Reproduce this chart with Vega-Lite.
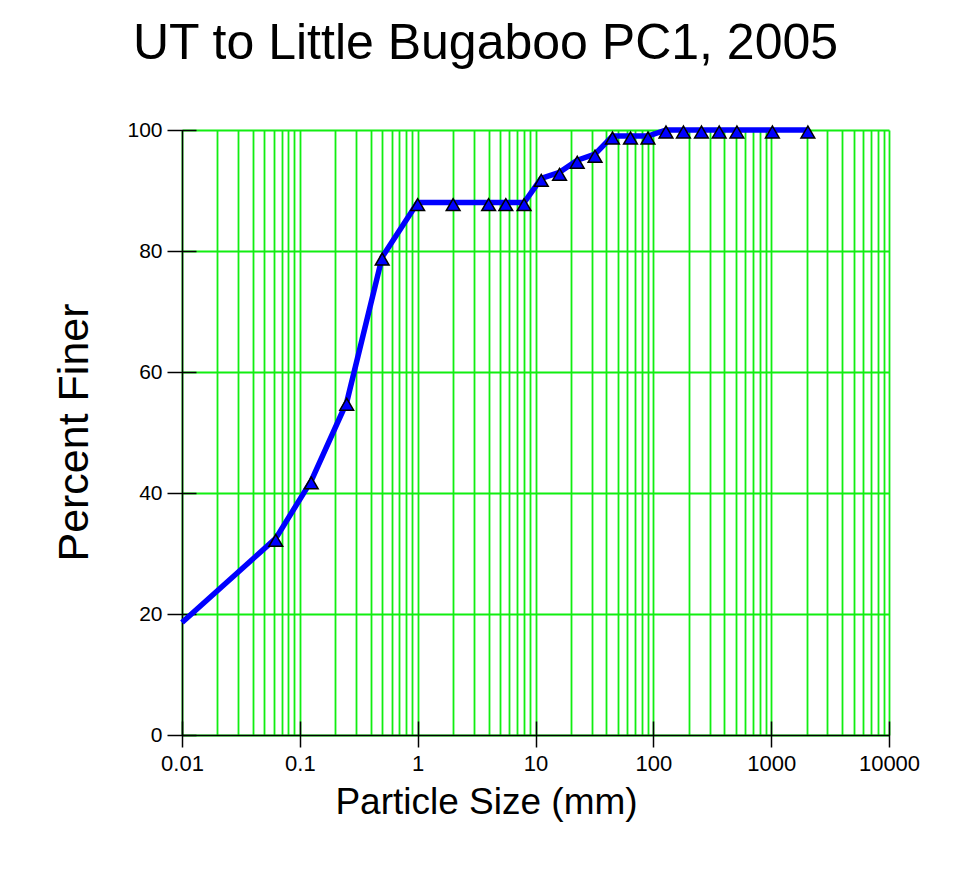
{
  "$schema": "https://vega.github.io/schema/vega-lite/v6.json",
  "width": 707,
  "height": 605,
  "autosize": {"type": "none"},
  "padding": {"left": 182, "top": 130, "right": 88, "bottom": 134},
  "background": "white",
  "config": {
    "view": {"stroke": null},
    "font": "Liberation Sans"
  },
  "title": {
    "text": "UT to Little Bugaboo PC1, 2005",
    "fontSize": 50,
    "font": "Liberation Sans",
    "fontWeight": "normal",
    "color": "black",
    "anchor": "middle",
    "frame": "group",
    "dx": -50,
    "offset": 10,
    "baseline": "alphabetic"
  },
  "data": {
    "values": [
      {"size": 0.01, "finer": 18.6, "marker": false},
      {"size": 0.0625, "finer": 32.5, "marker": true},
      {"size": 0.125, "finer": 42, "marker": true},
      {"size": 0.25, "finer": 55, "marker": true},
      {"size": 0.5, "finer": 79, "marker": true},
      {"size": 1, "finer": 88, "marker": true},
      {"size": 2, "finer": 88, "marker": true},
      {"size": 4, "finer": 88, "marker": true},
      {"size": 5.6, "finer": 88, "marker": true},
      {"size": 8, "finer": 88, "marker": true},
      {"size": 11.2, "finer": 92, "marker": true},
      {"size": 16, "finer": 93, "marker": true},
      {"size": 22.6, "finer": 95, "marker": true},
      {"size": 32, "finer": 96, "marker": true},
      {"size": 45, "finer": 99, "marker": true},
      {"size": 64, "finer": 99, "marker": true},
      {"size": 90, "finer": 99, "marker": true},
      {"size": 128, "finer": 100, "marker": true},
      {"size": 180, "finer": 100, "marker": true},
      {"size": 256, "finer": 100, "marker": true},
      {"size": 362, "finer": 100, "marker": true},
      {"size": 512, "finer": 100, "marker": true},
      {"size": 1024, "finer": 100, "marker": true},
      {"size": 2048, "finer": 100, "marker": true}
    ]
  },
  "resolve": {"axis": {"x": "independent", "y": "independent"}},
  "layer": [
    {
      "mark": {"type": "line", "color": "#0000ff", "strokeWidth": 5.5, "strokeJoin": "round"},
      "encoding": {
        "x": {
          "field": "size", "type": "quantitative",
          "scale": {"type": "log", "domain": [0.01, 10000], "nice": false},
          "axis": {
            "orient": "bottom",
            "values": [0.01,0.02,0.03,0.04,0.05,0.06,0.07,0.08,0.09,0.1,0.2,0.3,0.4,0.5,0.6,0.7,0.8,0.9,1,2,3,4,5,6,7,8,9,10,20,30,40,50,60,70,80,90,100,200,300,400,500,600,700,800,900,1000,2000,3000,4000,5000,6000,7000,8000,9000,10000],
            "grid": true, "gridColor": "#11ee11", "gridWidth": 1.8, "gridOpacity": 1,
            "ticks": false, "labels": false, "title": null,
            "domain": true, "domainColor": "black", "domainWidth": 1.5
          }
        },
        "y": {
          "field": "finer", "type": "quantitative",
          "scale": {"domain": [0, 100], "nice": false, "zero": true},
          "axis": {
            "orient": "left",
            "values": [0, 20, 40, 60, 80, 100],
            "grid": true, "gridColor": "#11ee11", "gridWidth": 1.8, "gridOpacity": 1,
            "ticks": false, "labels": false, "title": null,
            "domain": true, "domainColor": "black", "domainWidth": 1.5
          }
        }
      }
    },
    {
      "transform": [{"filter": "datum.marker"}],
      "mark": {"type": "point", "shape": "triangle-up", "size": 190, "filled": true, "fill": "#0000ff", "stroke": "black", "strokeWidth": 1.5, "opacity": 1, "yOffset": 2},
      "encoding": {
        "x": {
          "field": "size", "type": "quantitative",
          "scale": {"type": "log", "domain": [0.01, 10000], "nice": false},
          "axis": {
            "orient": "bottom",
            "values": [0.01, 0.1, 1, 10, 100, 1000, 10000],
            "format": "~g",
            "grid": false, "domain": false,
            "offset": -14, "ticks": true, "tickSize": 26, "tickColor": "black", "tickWidth": 1.5,
            "labelFontSize": 22, "labelColor": "black", "labelPadding": 6, "labelFont": "Liberation Sans",
            "labelFlush": false, "labelOverlap": false,
            "title": "Particle Size (mm)", "titleFontSize": 37, "titleFontWeight": "normal", "titleColor": "black", "titleFont": "Liberation Sans",
            "titleX": 304, "titleY": 92, "titleAlign": "center", "titleBaseline": "alphabetic"
          }
        },
        "y": {
          "field": "finer", "type": "quantitative",
          "scale": {"domain": [0, 100], "nice": false, "zero": true},
          "axis": {
            "orient": "left",
            "values": [0, 20, 40, 60, 80, 100],
            "grid": false, "domain": false,
            "offset": -14, "ticks": true, "tickSize": 29, "tickColor": "black", "tickWidth": 1.5,
            "labelFontSize": 21, "labelColor": "black", "labelPadding": 5, "labelFont": "Liberation Sans",
            "labelFlush": false, "labelOverlap": false,
            "title": "Percent Finer", "titleFontSize": 43, "titleFontWeight": "normal", "titleColor": "black", "titleFont": "Liberation Sans",
            "titleAngle": -90, "titleX": -109, "titleY": 302, "titleAlign": "center", "titleBaseline": "alphabetic"
          }
        }
      }
    }
  ]
}
